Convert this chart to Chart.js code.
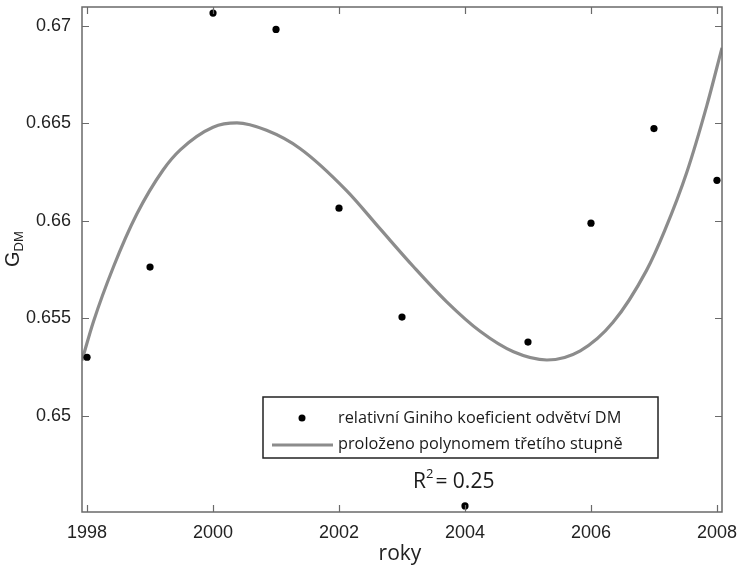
<!DOCTYPE html>
<html>
<head>
<meta charset="utf-8">
<script src="https://cdn.jsdelivr.net/npm/chart.js@4.4.1/dist/chart.umd.min.js"></script>
<style>
  html, body { margin: 0; padding: 0; background: #fff; }
  #wrap { width: 737px; height: 565px; position: relative; }
</style>
</head>
<body>
<div id="wrap"><canvas id="c" width="737" height="565"></canvas></div>
<script>
// ---- data ----
const years = [1998, 1999, 2000, 2001, 2002, 2003, 2004, 2005, 2006, 2007, 2008];
const giniValues = [0.65301, 0.65763, 0.67065, 0.66981, 0.66065, 0.65507, 0.64539, 0.65379, 0.65988, 0.66473, 0.66208];
const fitYears = [1997.92, 1998.10, 1998.42, 1998.79, 1999.21, 1999.48, 2000.00, 2000.38, 2000.85, 2001.38, 2002.12, 2002.65, 2003.18, 2003.71, 2004.24, 2004.77, 2005.30, 2005.83, 2006.35, 2006.88, 2007.17, 2007.52, 2007.84, 2008.08];
const fitValues = [0.65285, 0.65482, 0.65765, 0.66035, 0.66262, 0.66364, 0.66480, 0.66502, 0.66464, 0.66371, 0.66155, 0.65960, 0.65766, 0.65585, 0.65434, 0.65329, 0.65287, 0.65334, 0.65480, 0.65745, 0.65950, 0.66248, 0.66592, 0.66887];
const xTicks = [1998, 2000, 2002, 2004, 2006, 2008];
const yTicks = [0.65, 0.655, 0.66, 0.665, 0.67];
const legendLabels = ['relativní Giniho koeficient odvětví DM', 'proloženo polynomem třetího stupně'];
const xTitle = 'roky';
const yTitleMain = 'G';
const yTitleSub = 'DM';
const r2Text = '0.25';

const pointData = years.map((y, i) => ({ x: y, y: giniValues[i] }));
const fitData = fitYears.map((y, i) => ({ x: y, y: fitValues[i] }));

const FRAME = '#6a6a6a';
const CURVE = '#8c8c8c';

const framePlugin = {
  id: 'frame',
  afterDraw(chart) {
    const { ctx, chartArea: a, scales } = chart;
    ctx.save();
    ctx.strokeStyle = FRAME;
    ctx.lineWidth = 1.5;
    ctx.strokeRect(a.left, a.top, a.right - a.left, a.bottom - a.top);
    ctx.lineWidth = 1.2;
    const tl = 7;
    xTicks.forEach(v => {
      const px = Math.round(scales.x.getPixelForValue(v)) + 0.5;
      ctx.beginPath();
      ctx.moveTo(px, a.bottom); ctx.lineTo(px, a.bottom - tl);
      ctx.moveTo(px, a.top); ctx.lineTo(px, a.top + tl);
      ctx.stroke();
    });
    yTicks.forEach(v => {
      const py = Math.round(scales.y.getPixelForValue(v)) + 0.5;
      ctx.beginPath();
      ctx.moveTo(a.left, py); ctx.lineTo(a.left + tl, py);
      ctx.moveTo(a.right, py); ctx.lineTo(a.right - tl, py);
      ctx.stroke();
    });

    // axis titles
    ctx.fillStyle = '#222';
    ctx.font = '21px "Open Sans", sans-serif';
    ctx.textAlign = 'center';
    ctx.textBaseline = 'alphabetic';
    ctx.fillText(xTitle, (a.left + a.right) / 2 - 2, 560);

    ctx.save();
    ctx.translate(19, 267);
    ctx.rotate(-Math.PI / 2);
    ctx.textAlign = 'left';
    ctx.font = '20px "Liberation Sans", sans-serif';
    ctx.fillText(yTitleMain, 0, 0);
    const gw = ctx.measureText(yTitleMain).width;
    ctx.font = '13px "Liberation Sans", sans-serif';
    ctx.fillText(yTitleSub, gw, 4);
    ctx.restore();

    // legend box
    const bx = 263, by = 397, bw = 395, bh = 61;
    ctx.fillStyle = '#fff';
    ctx.fillRect(bx, by, bw, bh);
    ctx.strokeStyle = '#222';
    ctx.lineWidth = 1.5;
    ctx.strokeRect(bx, by, bw, bh);
    ctx.fillStyle = '#000';
    ctx.beginPath();
    ctx.arc(302, 418, 3.5, 0, Math.PI * 2);
    ctx.fill();
    ctx.strokeStyle = CURVE;
    ctx.lineWidth = 3;
    ctx.beginPath();
    ctx.moveTo(272, 445); ctx.lineTo(333, 445);
    ctx.stroke();
    ctx.fillStyle = '#1a1a1a';
    ctx.font = '16.3px "Open Sans", sans-serif';
    ctx.textAlign = 'left';
    ctx.textBaseline = 'middle';
    ctx.fillText(legendLabels[0], 338, 418);
    ctx.fillText(legendLabels[1], 338, 444);

    // R^2 annotation
    ctx.textBaseline = 'alphabetic';
    ctx.font = '21px "Open Sans", sans-serif';
    ctx.fillText('R', 413, 488);
    const rw = ctx.measureText('R').width;
    ctx.font = '13px "Open Sans", sans-serif';
    ctx.fillText('2', 413 + rw, 478);
    const sw = ctx.measureText('2').width;
    ctx.font = '21px "Open Sans", sans-serif';
    ctx.fillText('= ' + r2Text, 413 + rw + sw + 2, 488);
    ctx.restore();
  }
};

new Chart(document.getElementById('c'), {
  type: 'scatter',
  data: {
    datasets: [
      {
        label: legendLabels[0],
        data: pointData,
        showLine: false,
        pointRadius: 3.6,
        pointBackgroundColor: '#000',
        pointBorderColor: '#000',
        pointBorderWidth: 0,
        order: 1
      },
      {
        label: legendLabels[1],
        data: fitData,
        showLine: true,
        pointRadius: 0,
        borderColor: CURVE,
        borderWidth: 3.2,
        cubicInterpolationMode: 'monotone',
        fill: false,
        order: 2
      }
    ]
  },
  options: {
    responsive: false,
    animation: false,
    layout: { autoPadding: false, padding: { top: 7, right: 15, left: 0, bottom: 0 } },
    plugins: { legend: { display: false }, tooltip: { enabled: false } },
    scales: {
      x: {
        type: 'linear',
        min: 1997.92,
        max: 2008.08,
        afterBuildTicks(s) { s.ticks = xTicks.map(v => ({ value: v })); },
        afterFit(s) { s.height = 53; s.paddingLeft = 0; s.paddingRight = 0; s.paddingTop = 0; s.paddingBottom = 0; },
        grid: { display: false, drawTicks: false },
        border: { display: false },
        ticks: {
          padding: 10,
          color: '#222',
          font: { family: '"Liberation Sans", Arial, sans-serif', size: 18 },
          maxRotation: 0,
          callback: v => String(v)
        }
      },
      y: {
        type: 'linear',
        min: 0.64508,
        max: 0.67096,
        afterBuildTicks(s) { s.ticks = yTicks.map(v => ({ value: v })); },
        afterFit(s) { s.width = 82; s.paddingLeft = 0; s.paddingRight = 0; s.paddingTop = 0; s.paddingBottom = 0; },
        grid: { display: false, drawTicks: false },
        border: { display: false },
        ticks: {
          padding: 11,
          color: '#222',
          font: { family: '"Liberation Sans", Arial, sans-serif', size: 18 },
          callback: v => String(Math.round(v * 1000) / 1000)
        }
      }
    }
  },
  plugins: [framePlugin]
});
</script>
</body>
</html>
